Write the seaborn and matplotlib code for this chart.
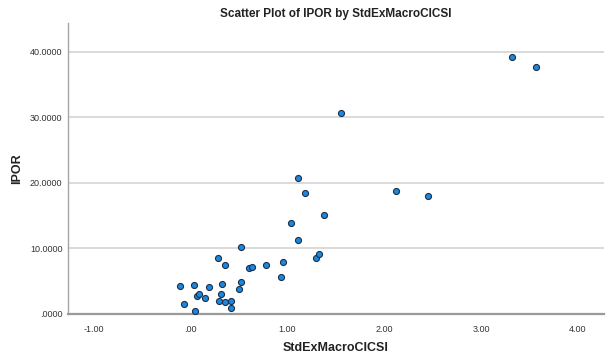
import numpy as np
import pandas as pd
import matplotlib
matplotlib.use('Agg')
import matplotlib.pyplot as plt
import seaborn as sns

# Values
std_ex_macro = [-0.11, -0.07, 0.03, 0.04, 0.07, 0.09, 0.15, 0.19, 0.28, 0.29,
                0.31, 0.32, 0.35, 0.35, 0.42, 0.42, 0.50, 0.52, 0.52, 0.60,
                0.63, 0.78, 0.93, 0.95, 1.04, 1.11, 1.18, 1.38, 1.29, 1.33,
                2.12, 2.45, 1.55, 1.11, 3.32, 3.57]
ipor = [4.18, 1.53, 4.38, 0.41, 2.66, 2.96, 2.35, 4.03, 8.50, 1.98,
        3.05, 4.49, 1.74, 7.39, 1.94, 0.82, 3.77, 4.84, 10.14, 6.98,
        7.08, 7.48, 5.56, 7.94, 13.85, 11.25, 18.38, 15.11, 8.46, 9.07,
        18.73, 17.97, 30.60, 20.67, 39.24, 37.71]

x_ticks = [-1, 0, 1, 2, 3, 4]
x_tick_labels = ['-1.00', '.00', '1.00', '2.00', '3.00', '4.00']
y_ticks = [0, 10, 20, 30, 40]
y_tick_labels = ['.0000', '10.0000', '20.0000', '30.0000', '40.0000']

df = pd.DataFrame({'StdExMacroCICSI': std_ex_macro, 'IPOR': ipor})

sns.set_style('white')
plt.rcParams['font.family'] = ['Liberation Sans', 'DejaVu Sans']

fig = plt.figure(figsize=(6.12, 3.61), dpi=100)
ax = fig.add_axes([0.111, 0.131, 0.876, 0.806])

ax.yaxis.grid(True, color='#d4d4d4', linewidth=1.2)
ax.set_axisbelow(True)

sns.scatterplot(data=df, x='StdExMacroCICSI', y='IPOR', ax=ax,
                color='#1a88e0', edgecolor='#1d2f45', linewidth=0.8, s=19,
                zorder=3)

ax.set_xlim(-1.268, 4.271)
ax.set_ylim(0, 44.43)
ax.set_xticks(x_ticks)
ax.set_xticklabels(x_tick_labels)
ax.set_yticks(y_ticks)
ax.set_yticklabels(y_tick_labels)
ax.tick_params(axis='x', length=0, labelsize=6.5, colors='#333333', pad=8)
ax.tick_params(axis='y', length=2, width=0.8, color='#999999', labelsize=6.5,
               labelcolor='#333333', pad=2)

for side in ['top', 'right']:
    ax.spines[side].set_visible(False)
ax.spines['left'].set_color('#a6a6a6')
ax.spines['left'].set_linewidth(1.0)
ax.spines['bottom'].set_color('#9a9a9a')
ax.spines['bottom'].set_linewidth(1.6)

ax.set_title('Scatter Plot of IPOR by StdExMacroCICSI', fontsize=8.5,
             fontweight='bold', color='#222222', pad=4)
ax.set_xlabel('StdExMacroCICSI', fontsize=9, fontweight='bold',
              color='#222222', labelpad=6)
ax.set_ylabel('IPOR', fontsize=9, fontweight='bold', color='#222222',
              labelpad=5)

plt.savefig('out.png', dpi=100)
